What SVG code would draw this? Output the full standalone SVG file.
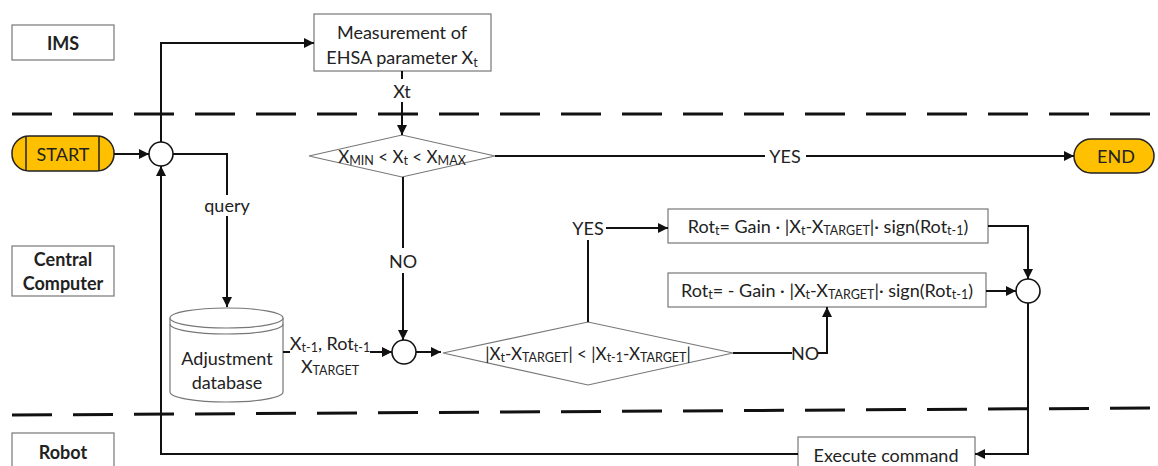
<svg xmlns="http://www.w3.org/2000/svg" width="1158" height="466" viewBox="0 0 1158 466">
<style>
text{font-family:Lato,"Open Sans","Liberation Sans",sans-serif;fill:#222;font-size:18px;text-anchor:middle;dominant-baseline:central}
.b{font-weight:bold;font-size:18px}
.m{font-size:17px}
.box{fill:#fff;stroke:#777;stroke-width:1.2}
.term{fill:#FFC000;stroke:#222;stroke-width:1.5}
.c{fill:none;stroke:#111;stroke-width:2}
.circ{fill:#fff;stroke:#111;stroke-width:1.6}
.dash{stroke:#111;stroke-width:3;stroke-dasharray:40 21;fill:none}
.s{font-size:12.5px}
</style>
<defs>
<marker id="ar" viewBox="0 0 10 10" refX="10" refY="5" markerWidth="10" markerHeight="10" markerUnits="userSpaceOnUse" orient="auto">
<path d="M0 0 L10 5 L0 10 z" fill="#111"/>
</marker>
</defs>
<g id="lanes">
<line class="dash" x1="12" y1="114" x2="1158" y2="114"/>
<line class="dash" x1="12" y1="415" x2="1158" y2="408"/>
</g>
<g id="ims"><rect class="box" x="12" y="25" width="102" height="35"/><text class="b" x="63" y="43">IMS</text></g>
<g id="central"><rect class="box" x="12" y="246" width="102" height="50"/><text class="b" x="63" y="259">Central</text><text class="b" x="63" y="283">Computer</text></g>
<g id="robot"><rect class="box" x="12" y="433" width="102" height="40"/><text class="b" x="63" y="452">Robot</text></g>
<g id="start"><rect class="term" x="12" y="136" width="102" height="35" rx="17"/><line x1="26" y1="136" x2="26" y2="171" stroke="#222" stroke-width="1.5"/><line x1="99" y1="136" x2="99" y2="171" stroke="#222" stroke-width="1.5"/><text x="63" y="154">START</text></g>
<g id="end"><rect class="term" x="1074" y="139" width="80" height="34" rx="17"/><text x="1116" y="156">END</text></g>
<g id="measure"><rect class="box" x="314" y="14" width="177" height="57"/><text x="402" y="32">Measurement of</text><text x="402" y="57">EHSA parameter X<tspan class="s" dy="5">t</tspan></text></g>
<g id="d1"><polygon class="box" points="309,156 402,135 495,156 402,177"/><text class="m" x="402" y="156">X<tspan class="s" dy="4">MIN</tspan><tspan dy="-4"> &lt; X</tspan><tspan class="s" dy="4">t</tspan><tspan dy="-4"> &lt; X</tspan><tspan class="s" dy="4">MAX</tspan></text></g>
<g id="c1"><circle class="circ" cx="161" cy="154" r="12"/></g>
<g id="db"><path class="box" d="M170 318 A56.5 10 0 0 1 283 318 V392 A56.5 10 0 0 1 170 392 Z"/><path class="box" fill="none" d="M170 318 A56.5 10 0 0 0 283 318"/><path d="M170 324 A56.5 10 0 0 0 283 324" fill="none" stroke="#777" stroke-width="1.2"/><text x="227" y="358">Adjustment</text><text x="227" y="382">database</text></g>
<g id="c2"><circle class="circ" cx="404" cy="352" r="12"/></g>
<g id="d2"><polygon class="box" points="443,353 588,322 733,353 588,385"/><text class="m" x="588" y="353">|X<tspan class="s" dy="4">t</tspan><tspan dy="-4">-X</tspan><tspan class="s" dy="4">TARGET</tspan><tspan dy="-4">| &lt; |X</tspan><tspan class="s" dy="4">t-1</tspan><tspan dy="-4">-X</tspan><tspan class="s" dy="4">TARGET</tspan><tspan dy="-4">|</tspan></text></g>
<g id="r1"><rect class="box" x="668" y="209" width="320" height="34"/><text x="828" y="226">Rot<tspan class="s" dy="4">t</tspan><tspan dy="-4">= Gain · |X</tspan><tspan class="s" dy="4">t</tspan><tspan dy="-4">-X</tspan><tspan class="s" dy="4">TARGET</tspan><tspan dy="-4">|· sign(Rot</tspan><tspan class="s" dy="4">t-1</tspan><tspan dy="-4">)</tspan></text></g>
<g id="r2"><rect class="box" x="668" y="273" width="318" height="34"/><text x="827" y="290">Rot<tspan class="s" dy="4">t</tspan><tspan dy="-4">= - Gain · |X</tspan><tspan class="s" dy="4">t</tspan><tspan dy="-4">-X</tspan><tspan class="s" dy="4">TARGET</tspan><tspan dy="-4">|· sign(Rot</tspan><tspan class="s" dy="4">t-1</tspan><tspan dy="-4">)</tspan></text></g>
<g id="c3"><circle class="circ" cx="1028" cy="291" r="12"/></g>
<g id="exec"><rect class="box" x="798" y="437" width="177" height="40"/><text x="886" y="455">Execute command</text></g>
<g id="connectors">
<path class="c" d="M114 154 H149" marker-end="url(#ar)"/>
<path class="c" d="M161 142 V43 H314" marker-end="url(#ar)"/>
<path class="c" d="M402 71 V79"/>
<path class="c" d="M402 102 V135" marker-end="url(#ar)"/>
<path class="c" d="M173 154 H227 V195"/>
<path class="c" d="M227 216 V307" marker-end="url(#ar)"/>
<path class="c" d="M283 352 H290"/>
<path class="c" d="M370 352 H392" marker-end="url(#ar)"/>
<path class="c" d="M403 177 V248"/>
<path class="c" d="M403 273 V340" marker-end="url(#ar)"/>
<path class="c" d="M495 156 H765"/>
<path class="c" d="M806 156 H1074" marker-end="url(#ar)"/>
<path class="c" d="M416 352 H441" marker-end="url(#ar)"/>
<path class="c" d="M588 322 V240"/>
<path class="c" d="M606 228 H668" marker-end="url(#ar)"/>
<path class="c" d="M733 353 H792"/>
<path class="c" d="M818 353 H827 V307" marker-end="url(#ar)"/>
<path class="c" d="M988 226 H1028 V279" marker-end="url(#ar)"/>
<path class="c" d="M986 291 H1016" marker-end="url(#ar)"/>
<path class="c" d="M1028 303 V454 H975" marker-end="url(#ar)"/>
<path class="c" d="M798 454 H161 V166" marker-end="url(#ar)"/>
<text x="402" y="91">Xt</text>
<text x="227" y="205">query</text>
<text x="403" y="261">NO</text>
<text x="785" y="156">YES</text>
<text x="588" y="228">YES</text>
<text x="805" y="353">NO</text>
<text x="330" y="343">X<tspan class="s" dy="4">t-1</tspan><tspan dy="-4">, Rot</tspan><tspan class="s" dy="4">t-1</tspan></text>
<text x="330" y="366">X<tspan class="s" dy="4">TARGET</tspan></text>
</g>
</svg>
